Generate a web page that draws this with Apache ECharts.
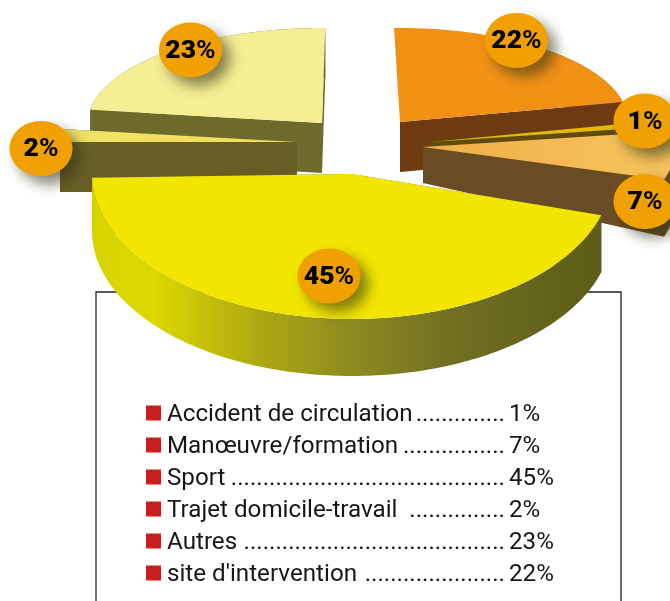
<!DOCTYPE html>
<html><head><meta charset="utf-8">
<style>html,body{margin:0;padding:0;background:#fff}#c{width:670px;height:601px}</style>
<script src="https://cdn.jsdelivr.net/npm/echarts@6/dist/echarts.min.js"></script>
</head><body><div id="c"></div>
<script>
const categories = ['Accident de circulation','Manœuvre/formation','Sport','Trajet domicile-travail','Autres',"site d'intervention"];
const values = [1,7,45,2,23,22];
const leaderDots = [14,16,43,15,41,22];

// Look of the drawing (one entry per category, same order)
const startAngle = -13.8;
const sliceLayout = [
 {cx:430,cy:142,rx:200,ry:80,rot:0.7,d0:20,d1:20,z:3,top:'#e8b808',side:'#5e4c08'},
 {cx:423,cy:147,rx:252,ry:112,rot:2,d0:36,d1:57,z:4,top:['#f0ae48','#f6c45c'],side:'#6a4c24'},
 {cx:352,cy:174,rx:260,ry:145,rot:1.5,d0:57,d1:57,z:6,top:'#f2e600',side:'#6a6a20',wall:[[0,'#d8d400'],[0.12,'#dcd800'],[0.32,'#b0aa10'],[0.5,'#8f8a20'],[0.72,'#6f6e22'],[1,'#5c5c18']]},
 {cx:297,cy:142,rx:237,ry:104,rot:3,d0:50,d1:50,z:5,top:['#f2e268','#efdc58'],side:'#665e24'},
 {cx:322,cy:123,rx:234,ry:95,rot:3.8,d0:50,d1:50,z:1,top:'#f5ee92',side:'#6e6a2c'},
 {cx:400,cy:122,rx:228,ry:94,rot:1.5,d0:50,d1:50,z:2,top:'#f19114',side:'#6e3a12',bandFrom:300,noStartWall:true}
];
const bubbleLayout = [[645,121],[645,201.5],[329,276],[41,148.5],[190.5,50],[516.5,40.5]];
const bubbleSize = [31.5,27.5];
const legendBox = {x:96,y:292,x2:621,y2:601};
const legendRows = {squareX:146,square:15,nameX:167,dotsRight:505,valueX:509,firstY:413,pitch:32,font:24.2,textDy:2};

const total = values.reduce((a,b)=>a+b,0);
const starts = []; let acc = startAngle;
values.forEach(v=>{starts.push(acc); acc += v/total*360;});
const rad = d=>d*Math.PI/180;

function renderSlice(params){
  const i = params.dataIndex, L = sliceLayout[i];
  const a0 = starts[i]+L.rot, a1 = a0+values[i]/total*360;
  const pt = a=>[L.cx+L.rx*Math.cos(rad(a)), L.cy+L.ry*Math.sin(rad(a))];
  const arc = [], n = Math.max(8,Math.ceil(a1-a0));
  for(let k=0;k<=n;k++) arc.push(pt(a0+(a1-a0)*k/n));
  const apex=[L.cx,L.cy], apexD=[L.cx,L.cy+L.d0];
  const down=p=>[p[0],p[1]+L.d1];
  const first=arc[0], last=arc[n];
  const side=L.side, z=L.z*10;
  const kids=[];
  const poly=(points,fill,zz)=>kids.push({type:'polygon',z2:zz,shape:{points},style:{fill,stroke:null}});
  if(!L.noStartWall) poly([apex,first,down(first),apexD],side,z);
  poly([apex,last,down(last),apexD],side,z);
  const bandArc=L.bandFrom?arc.filter((p,k)=>a0+(a1-a0)*k/n>=L.bandFrom):arc;
  const band=bandArc.concat(bandArc.slice().reverse().map(down));
  const wallFill=L.wall?new echarts.graphic.LinearGradient(0,0,1,0,L.wall.map(s=>({offset:s[0],color:s[1]}))):side;
  poly(band,wallFill,z+1);
  const topFill=Array.isArray(L.top)?new echarts.graphic.LinearGradient(0,0,1,0,[{offset:0,color:L.top[0]},{offset:1,color:L.top[1]}]):L.top;
  poly([apex].concat(arc),topFill,z+2);
  return {type:'group',children:kids};
}
function renderBubble(params,api){
  const i=params.dataIndex, c=bubbleLayout[i];
  return {type:'group',children:[
    {type:'ellipse',z2:100,shape:{cx:c[0],cy:c[1],rx:bubbleSize[0],ry:bubbleSize[1]},
     style:{fill:'#f0a000',shadowColor:'rgba(50,50,20,0.6)',shadowBlur:14,shadowOffsetX:8,shadowOffsetY:8}},
    {type:'text',z2:101,x:c[0],y:c[1]+1,style:{text:'{b|'+api.value(0)+'}{p|%}',align:'center',verticalAlign:'middle',
      rich:{b:{fontFamily:'Roboto',fontWeight:900,fontSize:26.5,fill:'#000',textFill:'#000',color:'#000'},
            p:{fontFamily:'Roboto',fontWeight:700,fontSize:26.5,fill:'#000',textFill:'#000',color:'#000'}}}}
  ]};
}
function renderRow(params,api){
  const i=params.dataIndex, R=legendRows, y=R.firstY+i*R.pitch;
  const font=R.font+'px Roboto', ty=y+R.textDy;
  const txt=(x,t,align)=>({type:'text',x,y:ty,style:{text:t,font,fill:'#161616',align,verticalAlign:'middle'}});
  return {type:'group',children:[
    {type:'rect',shape:{x:R.squareX,y:y-R.square/2,width:R.square,height:R.square},style:{fill:'#c81e1e'}},
    txt(R.nameX,categories[i],'left'),
    txt(R.dotsRight,'.'.repeat(leaderDots[i]),'right'),
    txt(R.valueX,api.value(0)+'%','left')
  ]};
}
const chart=echarts.init(document.getElementById('c'),null,{renderer:'canvas'});
const seriesData=categories.map((c,i)=>({name:c,value:values[i]}));
const B=legendBox;
chart.setOption({
  animation:false,
  backgroundColor:'#fff',
  graphic:[{type:'polyline',z:0,silent:true,shape:{points:[[B.x,B.y2],[B.x,B.y],[B.x2,B.y],[B.x2,B.y2]]},style:{stroke:'#222',lineWidth:1.3,fill:null}}],
  series:[
    {type:'custom',coordinateSystem:'none',z:2,silent:true,renderItem:renderSlice,data:seriesData},
    {type:'custom',coordinateSystem:'none',z:3,silent:true,renderItem:renderRow,data:seriesData},
    {type:'custom',coordinateSystem:'none',z:4,silent:true,renderItem:renderBubble,data:seriesData}
  ]
});
</script></body></html>
